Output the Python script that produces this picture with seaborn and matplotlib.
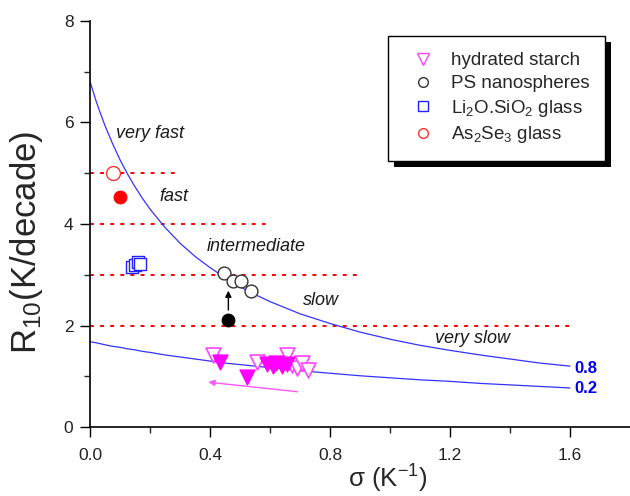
import numpy as np
import pandas as pd
import matplotlib
matplotlib.use("Agg")
import matplotlib.pyplot as plt
import seaborn as sns
from matplotlib.lines import Line2D
from matplotlib.patches import Rectangle

# ---- data ----
curve_x = [0.0, 0.01, 0.02, 0.035, 0.05, 0.075, 0.1, 0.125, 0.15, 0.175, 0.2,
           0.25, 0.3, 0.35, 0.4, 0.45, 0.5, 0.55, 0.6, 0.7, 0.8,
           0.9, 1.0, 1.1, 1.2, 1.3, 1.4, 1.5, 1.6]
curve_08 = [6.80, 6.61, 6.42, 6.17, 5.93, 5.58, 5.26, 4.98, 4.73, 4.50, 4.29,
            3.93, 3.62, 3.36, 3.14, 2.94, 2.76, 2.61, 2.47, 2.23, 2.04,
            1.87, 1.73, 1.61, 1.51, 1.42, 1.34, 1.26, 1.20]
curve_02 = [1.68, 1.67, 1.66, 1.64, 1.62, 1.59, 1.57, 1.54, 1.52, 1.49, 1.47,
            1.42, 1.38, 1.34, 1.30, 1.26, 1.23, 1.20, 1.17, 1.11, 1.06,
            1.01, 0.97, 0.93, 0.90, 0.86, 0.83, 0.80, 0.77]

# rate boundaries (dotted red lines): level, x end
bound_y = [5, 4, 3, 2]
bound_xend = [0.30, 0.60, 0.89, 1.60]

starch_open_x = [0.41, 0.556, 0.656, 0.672, 0.689, 0.706, 0.728]
starch_open_y = [1.42, 1.29, 1.42, 1.22, 1.16, 1.26, 1.12]
starch_fill_x = [0.433, 0.522, 0.59, 0.61, 0.62, 0.64, 0.655]
starch_fill_y = [1.29, 0.98, 1.25, 1.21, 1.27, 1.21, 1.25]

ps_open_x = [0.447, 0.476, 0.502, 0.536]
ps_open_y = [3.03, 2.88, 2.88, 2.68]
ps_fill_x = [0.461]
ps_fill_y = [2.11]

li_x = [0.14, 0.15, 0.16, 0.165]
li_y = [3.15, 3.20, 3.25, 3.22]

as_open_x = [0.076]
as_open_y = [5.01]
as_fill_x = [0.10]
as_fill_y = [4.54]

regions = ["very fast", "fast", "intermediate", "slow", "very slow"]
region_x = [0.085, 0.23, 0.39, 0.71, 1.15]
region_y = [5.78, 4.55, 3.55, 2.5, 1.75]

# ---- plot ----
sns.set_style("ticks")
plt.rcParams["font.family"] = ["Liberation Sans", "DejaVu Sans"]
plt.rcParams["mathtext.default"] = "regular"

fig = plt.figure(figsize=(6.3, 4.96), dpi=100)
ax = fig.add_axes([0.143, 0.139, 0.857, 0.819])

curves = pd.DataFrame({"x": curve_x, "0.8": curve_08, "0.2": curve_02})
sns.lineplot(data=curves, x="x", y="0.8", color="#3333ff", lw=0.9, ax=ax)
sns.lineplot(data=curves, x="x", y="0.2", color="#3333ff", lw=0.9, ax=ax)

for yv, xe in zip(bound_y, bound_xend):
    ax.plot([0, xe], [yv, yv], color="red", lw=1.4, ls=(0, (2, 3.2)), zorder=1)

sns.scatterplot(x=starch_open_x, y=starch_open_y, marker="v", s=115,
                facecolor="white", edgecolor="#ff44ff", linewidth=1.2, ax=ax, zorder=3)
sns.scatterplot(x=starch_fill_x, y=starch_fill_y, marker="v", s=115,
                color="#ff00ff", edgecolor="#ff00ff", linewidth=1, ax=ax, zorder=4)
sns.scatterplot(x=ps_open_x, y=ps_open_y, marker="o", s=85,
                facecolor="white", edgecolor="#333333", linewidth=1, ax=ax, zorder=4)
sns.scatterplot(x=ps_fill_x, y=ps_fill_y, marker="o", s=85,
                color="black", edgecolor="black", ax=ax, zorder=4)
sns.scatterplot(x=li_x, y=li_y, marker="s", s=75,
                facecolor="white", edgecolor="#2222ff", linewidth=1, ax=ax, zorder=4)
sns.scatterplot(x=as_open_x, y=as_open_y, marker="o", s=100,
                facecolor="white", edgecolor="#ff3333", linewidth=1, ax=ax, zorder=4)
sns.scatterplot(x=as_fill_x, y=as_fill_y, marker="o", s=85,
                color="red", edgecolor="red", ax=ax, zorder=4)

# arrows
ax.annotate("", xy=(0.461, 2.74), xytext=(0.461, 2.25),
            arrowprops=dict(arrowstyle="-|>", color="black", lw=1,
                            mutation_scale=9), zorder=5)
ax.annotate("", xy=(0.385, 0.89), xytext=(0.70, 0.69),
            arrowprops=dict(arrowstyle="-|>", color="#ff55ff", lw=1,
                            mutation_scale=9), zorder=5)

for t, tx, ty in zip(regions, region_x, region_y):
    ax.text(tx, ty, t, fontsize=13, style="italic", color="#1a1a1a",
            va="center", ha="left")

ax.text(1.615, 1.16, "0.8", color="#0000ee", fontsize=12, weight="bold", va="center")
ax.text(1.615, 0.75, "0.2", color="#0000ee", fontsize=12, weight="bold", va="center")

ax.set_xlim(0, 1.8)
ax.set_ylim(0, 8)
ax.set_xticks([0.0, 0.4, 0.8, 1.2, 1.6])
ax.set_xticklabels(["0.0", "0.4", "0.8", "1.2", "1.6"])
ax.set_yticks([0, 2, 4, 6, 8])
ax.set_xticks([0.2, 0.6, 1.0, 1.4], minor=True)
ax.set_yticks([1, 3, 5, 7], minor=True)
ax.tick_params(which="major", direction="out", length=7, width=1, labelsize=12.5,
               colors="black", labelcolor="#222222")
ax.tick_params(axis="x", which="major", pad=8)
ax.tick_params(axis="y", which="major", pad=5)
ax.tick_params(which="minor", direction="out", length=4, width=1)
ax.set_xlabel("σ (K$^{-1}$)", fontsize=18.5)
ax.xaxis.set_label_coords(0.552, -0.088)
ax.set_ylabel("R$_{10}$(K/decade)", fontsize=25)
ax.yaxis.set_label_coords(-0.084, 0.455)
sns.despine(ax=ax)
for sp in ["left", "bottom"]:
    ax.spines[sp].set_linewidth(1.2)
    ax.spines[sp].set_color("black")

handles = [
    Line2D([], [], ls="none", marker="v", ms=8, mfc="white", mec="#ff44ff"),
    Line2D([], [], ls="none", marker="o", ms=7, mfc="white", mec="#333333"),
    Line2D([], [], ls="none", marker="s", ms=7, mfc="white", mec="#2222ff"),
    Line2D([], [], ls="none", marker="o", ms=7, mfc="white", mec="#ff3333"),
]
labels = ["hydrated starch", "PS nanospheres",
          "Li$_2$O.SiO$_2$ glass", "As$_2$Se$_3$ glass"]
leg = ax.legend(handles, labels, loc="upper left", bbox_to_anchor=(0.552, 0.962),
                fontsize=13.5, frameon=True, fancybox=False, edgecolor="black",
                framealpha=1, facecolor="white",
                borderpad=0.85, handletextpad=0.5, labelspacing=0.3,
                borderaxespad=0)
leg.get_frame().set_linewidth(1)
leg.set_zorder(10)

# thick black drop shadow behind the legend box
fig.canvas.draw()
bb = leg.get_frame().get_window_extent().transformed(fig.transFigure.inverted())
dx, dy = 6 / 630, 6 / 496
ax.add_patch(Rectangle((bb.x0 + dx, bb.y0 - dy), bb.width, bb.height,
                       transform=fig.transFigure, facecolor="black",
                       edgecolor="none", zorder=9, clip_on=False))

fig.savefig("out.png", dpi=100)
